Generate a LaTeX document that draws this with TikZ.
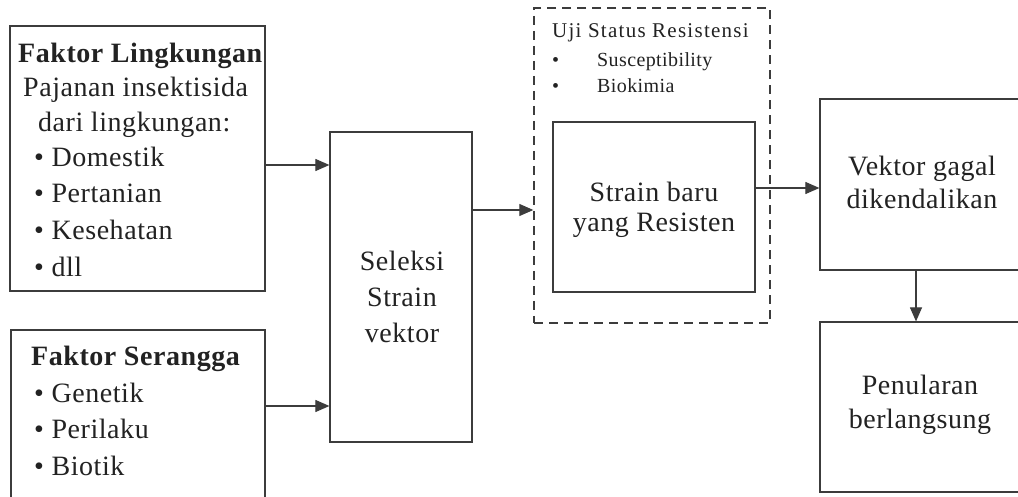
\documentclass[tikz,border=0pt]{standalone}
\usepackage{fontspec}
\setmainfont[LetterSpace=2]{Liberation Serif}
\usetikzlibrary{arrows.meta}
\definecolor{linec}{HTML}{3C3C3C}
\definecolor{textc}{HTML}{222222}
\begin{document}
\begin{tikzpicture}[x=1pt,y=-1pt,
  box/.style={draw=linec, line width=1.2pt, rectangle, inner sep=0pt},
  dbox/.style={draw=linec, line width=1.4pt, dash pattern=on 9pt off 6pt, rectangle, inner sep=0pt},
  arr/.style={draw=linec, line width=1.1pt, -{Triangle[length=14pt,width=12pt]}},
  big/.style={font=\fontsize{28}{34}\selectfont, text=textc, inner sep=0pt},
  small/.style={font=\fontsize{20}{24}\selectfont, text=textc, inner sep=0pt},
  ctext/.style={big, align=center, anchor=center}
]
\useasboundingbox (0,0) rectangle (1018,497);
\fill[white] (0,0) rectangle (1018,497);

% boxes
\node[box, minimum width=255pt, minimum height=265pt] (lingk) at (137.5,158.5) {};
\node[box, minimum width=254pt, minimum height=200pt] (serangga) at (138,430) {};
\node[box, minimum width=142pt, minimum height=310pt] (seleksi) at (401,287) {};
\node[dbox, minimum width=236pt, minimum height=315pt] (uji) at (652,165.5) {};
\node[box, minimum width=202pt, minimum height=170pt] (strain) at (654,207) {};
\node[box, minimum width=210pt, minimum height=171pt] (vektor) at (925,184.5) {};
\node[box, minimum width=210pt, minimum height=170pt] (tular) at (925,407) {};

% text: Faktor Lingkungan
\node[big, anchor=base west] (l0) at (18,63) {\bfseries Faktor Lingkungan};
\node[big, anchor=base west] (l1) at (23,97) {Pajanan insektisida};
\node[big, anchor=base west] (l2) at (38,132) {dari lingkungan:};
\node[big, anchor=base west] (l3) at (34,167) {• Domestik};
\node[big, anchor=base west] (l4) at (34,203) {• Pertanian};
\node[big, anchor=base west] (l5) at (34,240) {• Kesehatan};
\node[big, anchor=base west] (l6) at (34,277) {• dll};

% text: Faktor Serangga
\node[big, anchor=base west] (s0) at (31,365) {\bfseries Faktor Serangga};
\node[big, anchor=base west] (s1) at (34,402) {• Genetik};
\node[big, anchor=base west] (s2) at (34,438) {• Perilaku};
\node[big, anchor=base west] (s3) at (34,475) {• Biotik};

% Seleksi
\node[ctext, font=\fontsize{28}{36}\selectfont] (tsel) at (402,297) {Seleksi\\Strain\\vektor};

% Uji status
\node[small, anchor=base west, font=\fontsize{21}{24}\selectfont\addfontfeature{LetterSpace=6}] (u0) at (552,38) {Uji Status Resistensi};
\node[small, anchor=base west] (u1b) at (552,67) {•};
\node[small, anchor=base west] (u1) at (597,67) {Susceptibility};
\node[small, anchor=base west] (u2b) at (552,93) {•};
\node[small, anchor=base west] (u2) at (597,93) {Biokimia};

% inner texts
\node[ctext, font=\fontsize{28}{30}\selectfont] (tstrain) at (654,210) {Strain baru\\yang Resisten};
\node[ctext, font=\fontsize{28}{33}\selectfont] (tvek) at (922,182) {Vektor gagal\\dikendalikan};
\node[ctext, font=\fontsize{28}{34}\selectfont] (ttular) at (920,405) {Penularan\\berlangsung};

% arrows
\coordinate (y1) at (0,165);
\coordinate (y2) at (0,406);
\coordinate (y3) at (0,210);
\coordinate (y4) at (0,188);
\coordinate (x5) at (916,0);
\draw[arr] (lingk.east |- y1) -- (seleksi.west |- y1);
\draw[arr] (serangga.east |- y2) -- (seleksi.west |- y2);
\draw[arr] (seleksi.east |- y3) -- (uji.west |- y3);
\draw[arr] (strain.east |- y4) -- (vektor.west |- y4);
\draw[arr] (x5 |- vektor.south) -- (x5 |- tular.north);
\end{tikzpicture}
\end{document}
